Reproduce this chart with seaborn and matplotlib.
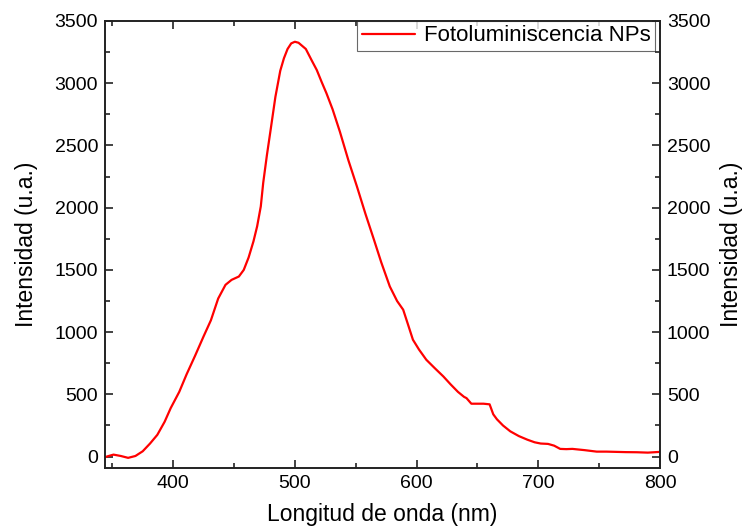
import numpy as np
import pandas as pd
import matplotlib
matplotlib.use('Agg')
import matplotlib.pyplot as plt
import seaborn as sns
from matplotlib.ticker import MultipleLocator

# Photoluminescence spectrum, values
wavelength = [344, 346, 351, 357, 363, 369, 375, 381, 387, 393, 398, 405, 411, 418,
              425, 431, 437, 443, 448, 454, 458, 462, 466, 469, 472, 474, 477, 480,
              484, 488, 491, 494, 497, 500, 503, 506, 509, 514, 518, 522, 526, 531,
              537, 544, 551, 558, 565, 571, 578, 584, 589, 593, 597, 602, 608, 615,
              622, 628, 634, 639, 641, 645, 650, 655, 660, 663, 666, 671, 677, 684,
              691, 697, 702, 708, 713, 718, 723, 728, 738, 748, 756, 764, 772, 781, 790, 800]
intensity = [-5, 2, 16, 5, -10, 5, 43, 105, 175, 280, 390, 520, 660, 810,
             966, 1095, 1270, 1380, 1420, 1447, 1500, 1600, 1730, 1850, 2010, 2200, 2420, 2620,
             2890, 3100, 3200, 3275, 3320, 3333, 3325, 3300, 3275, 3180, 3106, 3010, 2918, 2790,
             2610, 2380, 2170, 1950, 1742, 1560, 1367, 1250, 1180, 1060, 939, 860, 778, 710,
             644, 580, 520, 480, 470, 425, 425, 425, 420, 340, 300, 250, 203, 165,
             136, 115, 105, 102, 88, 62, 60, 62, 52, 40, 40, 38, 36, 35, 32, 38]

df = pd.DataFrame({'wl': wavelength, 'I': intensity})

sns.set_style('ticks')
plt.rcParams['font.family'] = ['Liberation Sans', 'DejaVu Sans']
plt.rcParams['text.color'] = 'black'
plt.rcParams['axes.labelcolor'] = 'black'
plt.rcParams['xtick.color'] = 'black'
plt.rcParams['ytick.color'] = 'black'

fig = plt.figure(figsize=(7.42, 5.31), dpi=100)
ax = fig.add_axes([0.1415, 0.119, 0.748, 0.8415])

sns.lineplot(data=df, x='wl', y='I', color='#ff0000', linewidth=1.6,
             label='Fotoluminiscencia NPs', ax=ax)

ax.set_xlim(344, 800)
ax.set_ylim(-90, 3500)
ax.xaxis.set_major_locator(MultipleLocator(100))
ax.xaxis.set_minor_locator(MultipleLocator(50))
ax.yaxis.set_major_locator(MultipleLocator(500))
ax.yaxis.set_minor_locator(MultipleLocator(250))
ax.tick_params(which='major', direction='in', length=6, width=1.2, labelsize=14,
               top=True, pad=5, color='#222222')
ax.tick_params(which='minor', direction='in', length=3.5, width=1.2, top=True,
               color='#222222')
ax.set_xlabel('Longitud de onda (nm)', fontsize=16.5, labelpad=8)
ax.set_ylabel('Intensidad (u.a.)', fontsize=16.5, labelpad=12)

ax2 = ax.twinx()
ax2.set_ylim(ax.get_ylim())
ax2.yaxis.set_major_locator(MultipleLocator(500))
ax2.yaxis.set_minor_locator(MultipleLocator(250))
ax2.tick_params(which='major', direction='in', length=6, width=1.2, labelsize=14,
                pad=5, color='#222222')
ax2.tick_params(which='minor', direction='in', length=3.5, width=1.2,
                color='#222222')
ax2.set_ylabel('Intensidad (u.a.)', fontsize=16.5, labelpad=7)

for a in (ax, ax2):
    for s in a.spines.values():
        s.set_visible(True)
        s.set_linewidth(1.2)
        s.set_color('#222222')

leg = ax.legend(loc='upper right', bbox_to_anchor=(0.991, 1.0), fontsize=16,
                frameon=True, fancybox=False, borderaxespad=0, handlelength=2.4,
                borderpad=0.2, handletextpad=0.4)
leg.get_frame().set_edgecolor('#444444')
leg.get_frame().set_linewidth(0.8)

fig.savefig('out.png', dpi=100)
